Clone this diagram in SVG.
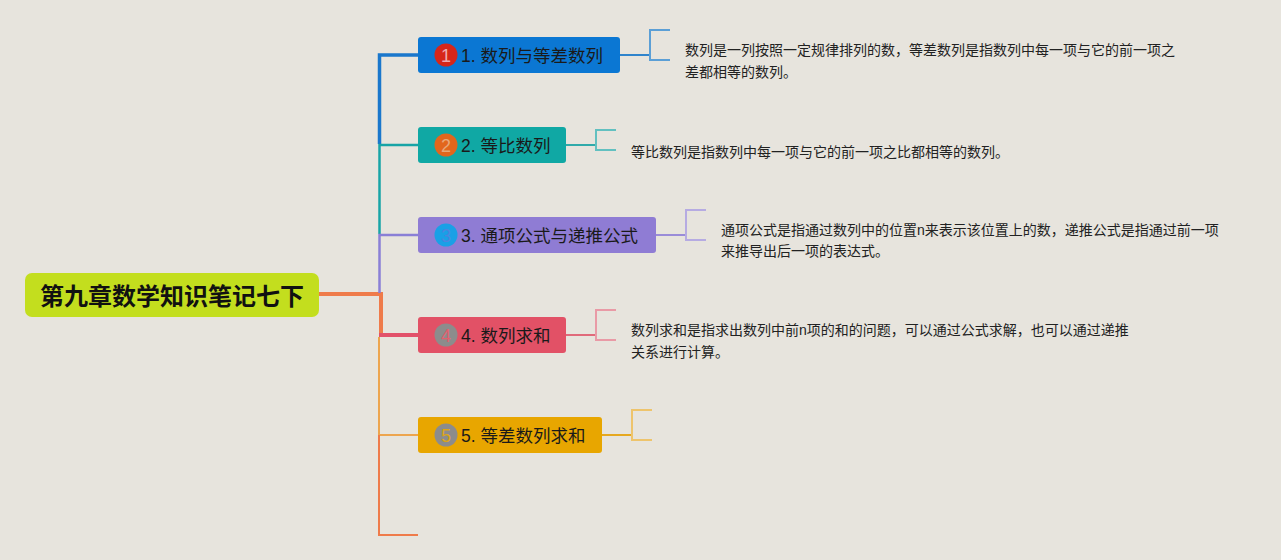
<svg xmlns="http://www.w3.org/2000/svg" width="1281" height="560" viewBox="0 0 1281 560">
<style>
.bg{fill:#e7e4dd}
.node text.t{font-family:"Liberation Sans","Noto Sans CJK SC",sans-serif;font-size:17.5px;fill:#1a1a1a}
.num{font-family:"Liberation Sans","Noto Sans CJK SC",sans-serif;font-size:18px;text-anchor:middle}
.desc{font-family:"Liberation Sans","Noto Sans CJK SC",sans-serif;font-size:14px;fill:#222}
.root{font-family:"Noto Sans CJK SC","Liberation Sans",sans-serif;font-size:24px;font-weight:bold;fill:#111;text-anchor:middle}
.ln{fill:none;stroke-linecap:butt}
.br{fill:none;stroke-width:2}
</style>
<rect class="bg" x="0" y="0" width="1281" height="560"/>
<g id="connectors">
  <path class="ln" d="M318 294 H381 V335" stroke="#ef7b4a" stroke-width="4"/>
  <path class="ln" d="M418 55 H379.5 V144" stroke="#1a77cc" stroke-width="3.5"/>
  <path class="ln" d="M418 145 H379.5 V234" stroke="#18a4a6" stroke-width="2.5"/>
  <path class="ln" d="M418 235 H379.5 V293" stroke="#8a7fd6" stroke-width="2.5"/>
  <path class="ln" d="M418 335 H379" stroke="#e2516a" stroke-width="4"/>
  <path class="ln" d="M379 337 V435 H418" stroke="#eda54e" stroke-width="2"/>
  <path class="ln" d="M379 435 V535 H418" stroke="#ef7b4a" stroke-width="2"/>
  <path class="ln" d="M620 55 H650" stroke="#2f84cc" stroke-width="2"/>
  <path class="br" d="M670 30 H650 V60 H670" stroke="#5b9fd6"/>
  <path class="ln" d="M566 145 H596" stroke="#30aaaa" stroke-width="2"/>
  <path class="br" d="M616 130 H596 V150 H616" stroke="#62c0c0"/>
  <path class="ln" d="M656 235 H686" stroke="#9a8cd8" stroke-width="2"/>
  <path class="br" d="M706 210 H686 V240 H706" stroke="#b6abe2"/>
  <path class="ln" d="M566 335 H596" stroke="#e06a7a" stroke-width="2"/>
  <path class="br" d="M616 310 H596 V340 H616" stroke="#e99aa6"/>
  <path class="ln" d="M602 435 H632" stroke="#e6a820" stroke-width="2"/>
  <path class="br" d="M652 410 H632 V440 H652" stroke="#eec46c"/>
</g>
<g id="root">
  <rect x="25" y="273" width="294" height="44" rx="7" fill="#c3de1e"/>
  <text class="root" x="172" y="305">第九章数学知识笔记七下</text>
</g>
<g id="node1" class="node">
  <rect x="418" y="37" width="202" height="36" rx="3" fill="#0b77d3"/>
  <circle cx="446" cy="55" r="11.5" fill="#d7261a"/>
  <text class="num" x="446" y="61.5" fill="#eeaab0">1</text>
  <text class="t" x="461" y="62">1. 数列与等差数列</text>
</g>
<g id="desc1">
  <text class="desc" x="685" y="55">数列是一列按照一定规律排列的数，等差数列是指数列中每一项与它的前一项之</text>
  <text class="desc" x="685" y="77">差都相等的数列。</text>
</g>
<g id="node2" class="node">
  <rect x="418" y="127" width="148" height="36" rx="3" fill="#10a8a4"/>
  <circle cx="446" cy="145" r="11.5" fill="#e2661c"/>
  <text class="num" x="446" y="151.5" fill="#e8a878">2</text>
  <text class="t" x="461" y="152">2. 等比数列</text>
</g>
<g id="desc2">
  <text class="desc" x="631" y="157">等比数列是指数列中每一项与它的前一项之比都相等的数列。</text>
</g>
<g id="node3" class="node">
  <rect x="418" y="217" width="238" height="36" rx="3" fill="#8f7cd4"/>
  <circle cx="446" cy="235" r="11.5" fill="#1aa0e6"/>
  <text class="num" x="446" y="241.5" fill="#4a86e0">3</text>
  <text class="t" x="461" y="242">3. 通项公式与递推公式</text>
</g>
<g id="desc3">
  <text class="desc" x="721" y="235">通项公式是指通过数列中的位置n来表示该位置上的数，递推公式是指通过前一项</text>
  <text class="desc" x="721" y="256">来推导出后一项的表达式。</text>
</g>
<g id="node4" class="node">
  <rect x="418" y="317" width="148" height="36" rx="3" fill="#e25166"/>
  <circle cx="446" cy="335" r="11.5" fill="#8c8c8c"/>
  <text class="num" x="446" y="341.5" fill="#e0606e">4</text>
  <text class="t" x="461" y="342">4. 数列求和</text>
</g>
<g id="desc4">
  <text class="desc" x="631" y="335">数列求和是指求出数列中前n项的和的问题，可以通过公式求解，也可以通过递推</text>
  <text class="desc" x="631" y="357">关系进行计算。</text>
</g>
<g id="node5" class="node">
  <rect x="418" y="417" width="184" height="36" rx="3" fill="#e8a600"/>
  <circle cx="446" cy="435" r="11.5" fill="#8c8c8c"/>
  <text class="num" x="446" y="441.5" fill="#dca418">5</text>
  <text class="t" x="461" y="442">5. 等差数列求和</text>
</g>
</svg>
